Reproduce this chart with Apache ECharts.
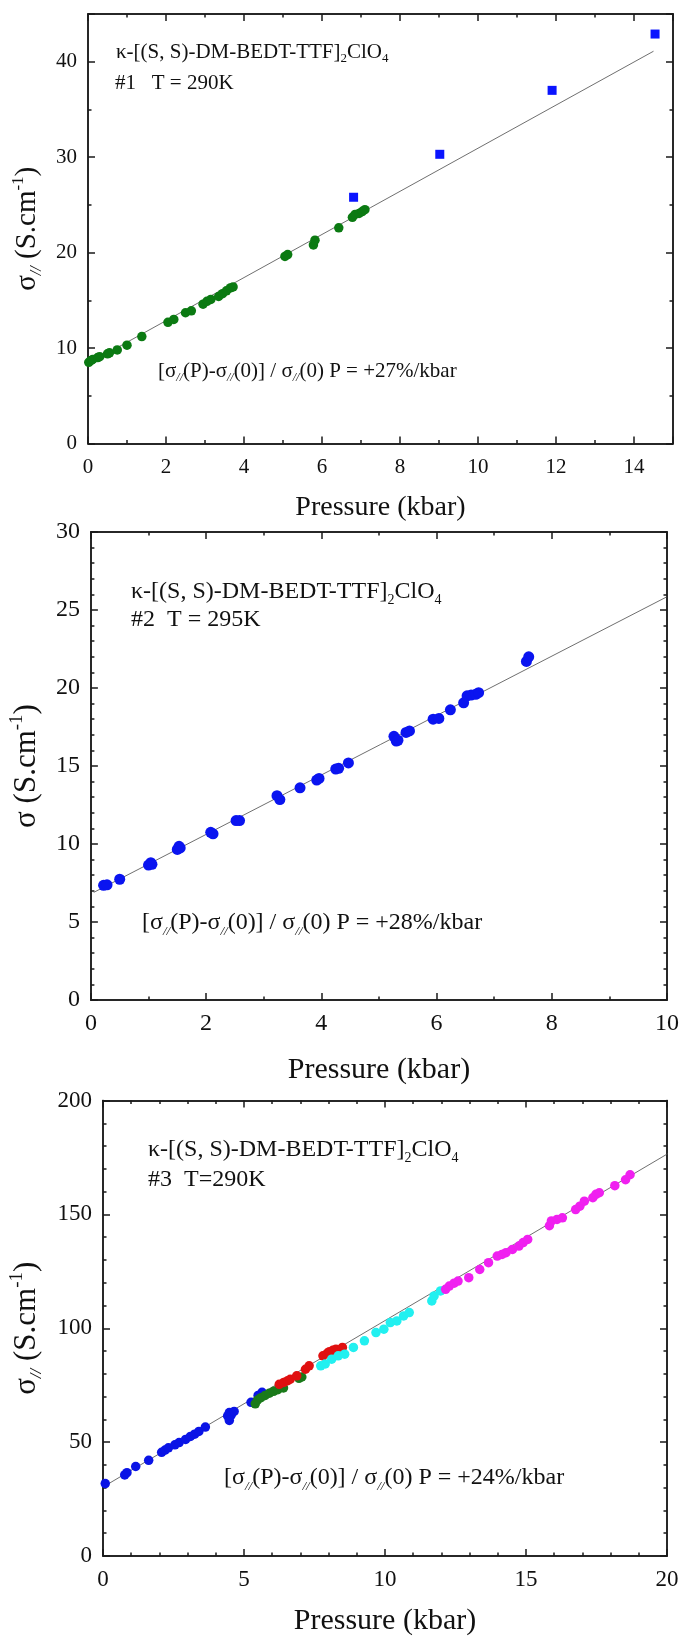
<!DOCTYPE html>
<html>
<head>
<meta charset="utf-8">
<script src="https://cdn.jsdelivr.net/npm/echarts@6/dist/echarts.min.js"></script>
<style>
  html, body { margin: 0; padding: 0; background: #fff; }
  #chart { width: 684px; height: 1640px; }
</style>
</head>
<body>
<div id="chart"></div>
<script>
// ---- Sample #1 (T = 290 K) ----
const p1Green = [
  [0.02, 8.5], [0.08, 8.7], [0.12, 8.8], [0.25, 9.0], [0.3, 9.1], [0.5, 9.4], [0.55, 9.5],
  [0.75, 9.8], [1.0, 10.3], [1.38, 11.2], [2.05, 12.7], [2.2, 13.0], [2.5, 13.7], [2.65, 13.9],
  [2.95, 14.6], [3.05, 14.9], [3.15, 15.1], [3.35, 15.4], [3.45, 15.7], [3.55, 16.0], [3.65, 16.3],
  [3.72, 16.4], [5.05, 19.6], [5.12, 19.8], [5.78, 20.8], [5.82, 21.3], [6.43, 22.6], [6.78, 23.7],
  [6.85, 24.0], [6.95, 24.1], [7.03, 24.3], [7.1, 24.5]
];
const p1Squares = [[6.81, 25.8], [9.02, 30.3], [11.9, 37.0], [14.54, 42.9]];
const p1Fit = [[0, 8.35], [14.5, 41.1]];
const p1XLabels = [0, 2, 4, 6, 8, 10, 12, 14];
const p1YLabels = [0, 10, 20, 30, 40];

// ---- Sample #2 (T = 295 K) ----
const p2Blue = [
  [0.22, 7.35], [0.28, 7.38], [0.5, 7.74], [1.0, 8.65], [1.04, 8.8], [1.06, 8.7], [1.5, 9.65],
  [1.53, 9.85], [1.55, 9.75], [2.08, 10.75], [2.12, 10.65], [2.52, 11.5], [2.58, 11.5], [3.23, 13.1],
  [3.28, 12.85], [3.63, 13.6], [3.92, 14.1], [3.96, 14.2], [4.25, 14.8], [4.3, 14.85], [4.47, 15.2],
  [5.26, 16.9], [5.3, 16.6], [5.33, 16.65], [5.47, 17.15], [5.53, 17.25], [5.94, 18.0], [6.04, 18.05],
  [6.24, 18.6], [6.47, 19.05], [6.53, 19.5], [6.6, 19.55], [6.68, 19.6], [6.73, 19.7], [7.56, 21.7],
  [7.6, 22.0]
];
const p2Fit = [[0.05, 6.9], [10, 25.85]];
const p2XLabels = [0, 2, 4, 6, 8, 10];
const p2YLabels = [0, 5, 10, 15, 20, 25, 30];

// ---- Sample #3 (T = 290 K), successive pressure runs ----
const p3Blue = [
  [0.08, 31.8], [0.77, 35.6], [0.85, 36.6], [1.16, 39.3], [1.62, 42.0], [2.08, 45.5], [2.2, 46.5],
  [2.32, 47.5], [2.55, 48.8], [2.7, 49.8], [2.93, 51.2], [3.1, 52.5], [3.25, 53.5], [3.4, 54.7],
  [3.63, 56.6], [4.42, 61.5], [4.48, 63.0], [4.55, 62.0], [4.48, 59.5], [4.65, 63.5], [5.25, 67.5],
  [5.5, 70.5], [5.64, 71.9]
];
const p3Green = [
  [5.4, 66.8], [5.48, 68.5], [5.6, 69.5], [5.75, 70.5], [5.9, 71.5], [6.05, 72.3], [6.2, 73.0],
  [6.4, 73.8], [6.95, 78.0], [7.05, 78.6]
];
const p3Red = [
  [6.25, 75.4], [6.41, 76.2], [6.55, 77.0], [6.64, 77.6], [6.87, 79.1], [7.18, 82.0], [7.31, 83.5],
  [7.8, 87.9], [7.95, 89.0], [8.03, 89.7], [8.15, 90.3], [8.26, 90.8], [8.49, 91.6]
];
const p3Cyan = [
  [7.72, 83.5], [7.88, 84.3], [8.11, 86.4], [8.34, 87.9], [8.57, 88.6], [8.88, 91.6], [9.27, 94.5],
  [9.68, 98.1], [9.96, 99.6], [10.19, 102.5], [10.42, 103.2], [10.66, 105.4], [10.86, 106.9],
  [11.66, 112.0], [11.74, 114.2], [11.97, 116.4]
];
const p3Magenta = [
  [12.15, 117.1], [12.28, 118.5], [12.45, 119.8], [12.59, 120.7], [12.97, 122.2], [13.36, 125.8],
  [13.67, 128.8], [13.98, 131.7], [14.15, 132.4], [14.29, 133.2], [14.52, 134.6], [14.75, 136.1],
  [14.9, 137.6], [15.06, 139.0], [15.83, 145.0], [15.9, 147.1], [16.1, 147.8], [16.29, 148.5],
  [16.76, 152.1], [16.91, 153.6], [17.07, 155.8], [17.37, 157.3], [17.48, 158.8], [17.6, 159.5],
  [18.15, 162.6], [18.53, 165.2], [18.69, 167.4]
];
const p3Fit = [[0, 30.3], [20.2, 177.9]];
const p3XLabels = [0, 5, 10, 15, 20];
const p3YLabels = [0, 50, 100, 150, 200];

const FONT = "'Liberation Serif','Times New Roman',Times,serif";
const INK = '#111';
const AXIS = '#1a1a1a';

function richFor(size) {
  return {
    sub: { fontSize: Math.round(size * 0.6), fontFamily: FONT, color: INK, fill: INK,
           verticalAlign: 'bottom', lineHeight: Math.round(size * 0.7) },
    subi: { fontSize: Math.round(size * 0.55), fontFamily: FONT, fontStyle: 'italic', color: INK, fill: INK,
            verticalAlign: 'bottom', lineHeight: Math.round(size * 0.7) },
    sup: { fontSize: Math.round(size * 0.6), fontFamily: FONT, color: INK, fill: INK,
           verticalAlign: 'top', lineHeight: Math.round(size * 0.7) }
  };
}

const panels = [
  {
    grid: { left: 88, top: 14, width: 585, height: 429.5 },
    x: { max: 15, major: 2, minor: 1, labels: p1XLabels, font: 21, margin: 13 },
    y: { max: 45, major: 10, minor: 5, labels: p1YLabels, font: 21, margin: 11 },
    xName: { text: 'Pressure (kbar)', size: 28, gap: 47 },
    yName: { text: 'σ{subi|//} (S.cm{sup|-1})', size: 29, gap: 42 }
  },
  {
    grid: { left: 88, top: 532, width: 579, height: 468 },
    x: { max: 10, major: 2, minor: 1, labels: p2XLabels, font: 24, margin: 12 },
    y: { max: 30, major: 5, minor: 1, labels: p2YLabels, font: 24, margin: 11 },
    xName: { text: 'Pressure (kbar)', size: 30, gap: 52 },
    yName: { text: 'σ (S.cm{sup|-1})', size: 31, gap: 44 }
  },
  {
    grid: { left: 102, top: 1100.5, width: 565, height: 457.2 },
    x: { max: 20, major: 5, minor: 1, labels: p3XLabels, font: 23, margin: 12 },
    y: { max: 200, major: 50, minor: 10, labels: p3YLabels, font: 23, margin: 11 },
    xName: { text: 'Pressure (kbar)', size: 30, gap: 47 },
    yName: { text: 'σ{subi|//} (S.cm{sup|-1})', size: 31, gap: 58 }
  }
];

const grids = [], xAxes = [], yAxes = [];

function frameAxis(kind, gi, spec, position, tickLen, step, withLabels, name) {
  const ax = {
    type: 'value', gridIndex: gi, position: position,
    min: 0, max: spec.max, interval: step,
    axisLine: { show: true, onZero: false, lineStyle: { color: AXIS, width: 1.5 } },
    axisTick: { show: true, inside: true, length: tickLen, lineStyle: { color: AXIS, width: 1.5 } },
    axisLabel: { show: false },
    splitLine: { show: false }
  };
  if (withLabels) {
    ax.axisLabel = {
      show: true, margin: spec.margin, color: INK, fontFamily: FONT, fontSize: spec.font,
      formatter: v => (spec.labels.indexOf(v) >= 0 ? String(v) : '')
    };
  }
  if (name) {
    ax.name = name.text;
    ax.nameLocation = 'middle';
    ax.nameGap = name.gap;
    if (kind === 'y') ax.nameRotate = 90;
    ax.nameTextStyle = {
      fontFamily: FONT, fontSize: name.size, color: INK,
      lineHeight: Math.round(name.size * 1.2), rich: richFor(name.size)
    };
  }
  return ax;
}

panels.forEach((p, gi) => {
  grids.push(Object.assign({ containLabel: false }, p.grid));
  // bottom / left carry the labelled major ticks plus minor ticks; top / right mirror the ticks
  xAxes.push(frameAxis('x', gi, p.x, 'bottom', 7, p.x.major, true, p.xName));
  xAxes.push(frameAxis('x', gi, p.x, 'bottom', 3.5, p.x.minor, false, null));
  xAxes.push(frameAxis('x', gi, p.x, 'top', 7, p.x.major, false, null));
  xAxes.push(frameAxis('x', gi, p.x, 'top', 3.5, p.x.minor, false, null));
  yAxes.push(frameAxis('y', gi, p.y, 'left', 7, p.y.major, true, p.yName));
  yAxes.push(frameAxis('y', gi, p.y, 'left', 3.5, p.y.minor, false, null));
  yAxes.push(frameAxis('y', gi, p.y, 'right', 7, p.y.major, false, null));
  yAxes.push(frameAxis('y', gi, p.y, 'right', 3.5, p.y.minor, false, null));
});

function fitLine(gi, data) {
  return {
    type: 'line', xAxisIndex: gi * 4, yAxisIndex: gi * 4, data: data,
    symbol: 'none', silent: true, clip: false, z: 1,
    lineStyle: { color: '#4a4a4a', width: 0.8 }
  };
}
function dots(gi, data, color, symbol, size) {
  return {
    type: 'scatter', xAxisIndex: gi * 4, yAxisIndex: gi * 4, data: data,
    symbol: symbol || 'circle', symbolSize: size, z: 2,
    itemStyle: { color: color, opacity: 1 }
  };
}

const series = [
  fitLine(0, p1Fit),
  dots(0, p1Green, '#0b7a12', 'circle', 9.5),
  dots(0, p1Squares, '#0a14ff', 'rect', 9),
  fitLine(1, p2Fit),
  dots(1, p2Blue, '#0a14f0', 'circle', 11),
  fitLine(2, p3Fit),
  dots(2, p3Blue, '#0a14e6', 'circle', 9.5),
  dots(2, p3Green, '#1a7a1a', 'circle', 9.5),
  dots(2, p3Red, '#e01010', 'circle', 9.5),
  dots(2, p3Cyan, '#22f0f0', 'circle', 9.5),
  dots(2, p3Magenta, '#f020f0', 'circle', 9.5)
];

function note(x, y, text, size) {
  return {
    type: 'text', x: x, y: y, silent: true,
    style: {
      text: text, fontFamily: FONT, fontSize: size, fill: INK,
      align: 'left', verticalAlign: 'middle', lineHeight: Math.round(size * 1.25),
      rich: richFor(size)
    }
  };
}

const compound = 'κ-[(S, S)-DM-BEDT-TTF]{sub|2}ClO{sub|4}';
const graphics = [
  note(116, 52, compound, 21),
  note(115, 83, '#1   T = 290K', 21),
  note(158, 371, '[σ{subi|//}(P)-σ{subi|//}(0)] / σ{subi|//}(0) P = +27%/kbar', 21),
  note(131, 592, compound, 24),
  note(131, 620, '#2  T = 295K', 24),
  note(142, 923, '[σ{subi|//}(P)-σ{subi|//}(0)] / σ{subi|//}(0) P = +28%/kbar', 24),
  note(148, 1150, compound, 24),
  note(148, 1180, '#3  T=290K', 24),
  note(224, 1478, '[σ{subi|//}(P)-σ{subi|//}(0)] / σ{subi|//}(0) P = +24%/kbar', 24)
];

const chart = echarts.init(document.getElementById('chart'), null, { renderer: 'canvas' });
chart.setOption({
  animation: false,
  backgroundColor: '#fff',
  grid: grids,
  xAxis: xAxes,
  yAxis: yAxes,
  series: series,
  graphic: { elements: graphics }
});
</script>
</body>
</html>
